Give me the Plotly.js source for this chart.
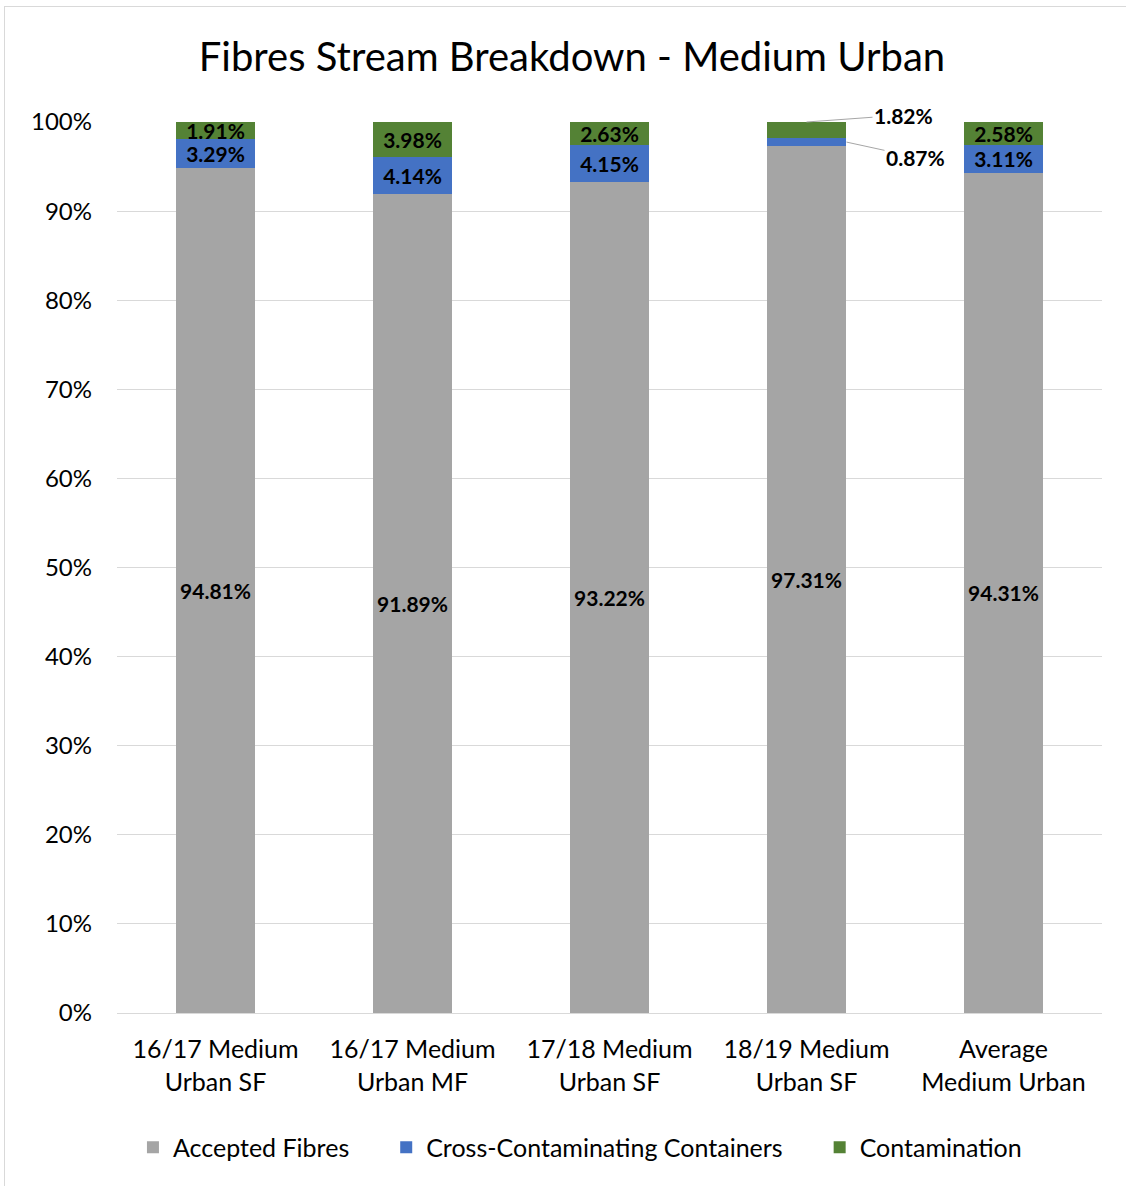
<!DOCTYPE html>
<html>
<head>
<meta charset="utf-8">
<script src="https://cdn.plot.ly/plotly-3.0.1.min.js"></script>
<style>
  html, body { margin: 0; padding: 0; background: #fff; }
  #frame { position: absolute; left: 4px; top: 6px; width: 1140px; height: 1200px; border: 1px solid #d9d9d9; box-sizing: border-box; }
  #chart { position: absolute; left: 0; top: 0; width: 1126px; height: 1186px; }
</style>
</head>
<body>
<div id="frame"></div>
<div id="chart"></div>
<script>
const categories = ["16/17 Medium<br>Urban SF", "16/17 Medium<br>Urban MF", "17/18 Medium<br>Urban SF", "18/19 Medium<br>Urban SF", "Average<br>Medium Urban"];
const seriesNames = ["Accepted Fibres", "Cross-Contaminating Containers", "Contamination"];
const acceptedFibres = [94.81, 91.89, 93.22, 97.31, 94.31];
const crossContaminating = [3.29, 4.14, 4.15, 0.87, 3.11];
const contamination = [1.91, 3.98, 2.63, 1.82, 2.58];
const yTickVals = [0, 10, 20, 30, 40, 50, 60, 70, 80, 90, 100];
const yTickText = yTickVals.map(v => v + "%");

const FONT = "Lato, 'Open Sans', sans-serif";
const labelFont = { family: FONT, size: 21, color: "#000000", weight: 700 };
const outsideIdx = 3;
const legendPad = "\u00a0\u00a0\u00a0\u00a0\u00a0";

function fmt(arr) { return arr.map(v => v.toFixed(2) + "%"); }

const traces = [
  { name: seriesNames[0] + legendPad, y: acceptedFibres, color: "#A5A5A5", insideAll: true },
  { name: seriesNames[1] + legendPad, y: crossContaminating, color: "#4472C4" },
  { name: seriesNames[2], y: contamination, color: "#548235" }
].map(s => ({
  type: "bar",
  name: s.name,
  x: categories,
  y: s.y,
  marker: { color: s.color },
  text: fmt(s.y),
  textposition: s.y.map((v, i) => (s.insideAll || i !== outsideIdx) ? "inside" : "none"),
  insidetextanchor: "middle",
  textangle: 0,
  constraintext: "none",
  textfont: labelFont,
  insidetextfont: labelFont,
  hoverinfo: "none"
}));

const annotations = [
  {
    x: categories[outsideIdx], y: acceptedFibres[outsideIdx] + crossContaminating[outsideIdx] + contamination[outsideIdx],
    text: contamination[outsideIdx].toFixed(2) + "%",
    showarrow: true, arrowhead: 0, arrowwidth: 1, arrowcolor: "#A6A6A6",
    ax: 97, ay: -7, xanchor: "center", yanchor: "middle",
    font: labelFont
  },
  {
    x: categories[outsideIdx], y: acceptedFibres[outsideIdx] + crossContaminating[outsideIdx] / 2,
    text: crossContaminating[outsideIdx].toFixed(2) + "%",
    showarrow: true, arrowhead: 0, arrowwidth: 1, arrowcolor: "#A6A6A6",
    ax: 69, ay: 15, xanchor: "center", yanchor: "middle",
    xshift: 40,
    font: labelFont
  }
];

const layout = {
  width: 1126, height: 1186,
  margin: { l: 117, r: 24, t: 122, b: 173 },
  paper_bgcolor: "rgba(0,0,0,0)",
  plot_bgcolor: "#ffffff",
  barmode: "stack",
  bargap: 0.595,
  font: { family: FONT, color: "#262626" },
  title: {
    text: "Fibres Stream Breakdown - Medium Urban",
    font: { size: 40, color: "#000000", family: FONT },
    x: 0.508, xanchor: "center", y: 0.952, yanchor: "middle"
  },
  xaxis: {
    type: "category",
    tickfont: { size: 25, color: "#000000" },
    showline: true, linecolor: "#d9d9d9", linewidth: 1,
    ticks: "", ticklabelstandoff: 14, fixedrange: true
  },
  yaxis: {
    range: [0, 100],
    tickvals: yTickVals, ticktext: yTickText,
    tickfont: { size: 24, color: "#000000" },
    showgrid: true, gridcolor: "#d9d9d9", gridwidth: 1,
    zeroline: false, ticks: "", ticklen: 0, ticklabelstandoff: 24, fixedrange: true
  },
  legend: {
    orientation: "h", x: 0.47, xanchor: "center", y: -0.125, yanchor: "top",
    font: { size: 25, color: "#000000" },
    traceorder: "normal"
  },
  showlegend: true,
  annotations: annotations
};

Plotly.newPlot("chart", traces, layout, { displayModeBar: false, staticPlot: true });
</script>
</body>
</html>
